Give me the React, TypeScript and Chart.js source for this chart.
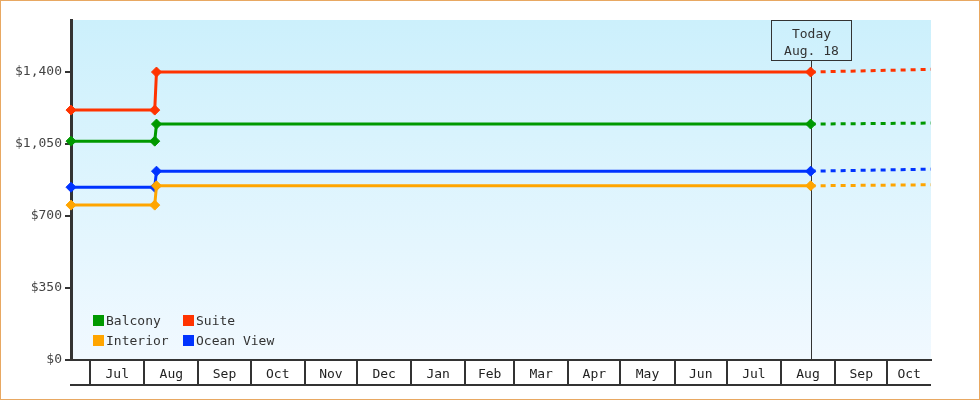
import { useEffect, useRef } from 'react'
import { Chart, registerables } from 'chart.js'
import type { Plugin } from 'chart.js'

Chart.register(...registerables)

// time range shown on the x axis
const startDate = '2017-06-20'
const endDate = '2018-10-26'
const todayDate = '2018-08-18'
const todayLabel = ['Today', 'Aug. 18']

// recorded prices
const priceDates = ['2017-06-20', '2017-08-07', '2017-08-08', '2018-08-18']
const balcony = [1064, 1064, 1147, 1147]
const suite = [1215, 1215, 1400, 1400]
const interior = [753, 753, 847, 847]
const oceanView = [840, 840, 918, 918]

// forecast after today
const forecastDates = ['2018-08-18', '2018-10-26']
const balconyForecast = [1147, 1152]
const suiteForecast = [1400, 1413]
const interiorForecast = [847, 852]
const oceanViewForecast = [918, 928]

const yTicks = [0, 350, 700, 1050, 1400]
const yMax = 1653
const monthNames = ['Jan', 'Feb', 'Mar', 'Apr', 'May', 'Jun', 'Jul', 'Aug', 'Sep', 'Oct', 'Nov', 'Dec']

const series = [
  { label: 'Balcony', color: '#009900', values: balcony, forecast: balconyForecast },
  { label: 'Suite', color: '#ff3300', values: suite, forecast: suiteForecast },
  { label: 'Interior', color: '#ffa500', values: interior, forecast: interiorForecast },
  { label: 'Ocean View', color: '#0033ff', values: oceanView, forecast: oceanViewForecast },
]

const FONT = "'DejaVu Sans Mono', monospace"
const INK = '#333'

const DAY_MS = 86400000
const day = (s: string) => (Date.parse(s + 'T00:00:00Z') - Date.parse(startDate + 'T00:00:00Z')) / DAY_MS

// month starts covering the range, as day offsets
function monthStarts() {
  const out: { value: number; name: string }[] = []
  const s = new Date(startDate + 'T00:00:00Z')
  let y = s.getUTCFullYear()
  let m = s.getUTCMonth()
  const last = day(endDate)
  while (true) {
    const v = (Date.UTC(y, m, 1) - Date.parse(startDate + 'T00:00:00Z')) / DAY_MS
    if (v > last) break
    out.push({ value: v, name: monthNames[m] })
    m++
    if (m > 11) { m = 0; y++ }
  }
  return out
}

const months = monthStarts()

const backgroundPlugin: Plugin = {
  id: 'bg',
  beforeDraw(chart) {
    const { ctx, chartArea: a } = chart
    const g = ctx.createLinearGradient(0, a.top, 0, a.bottom)
    g.addColorStop(0, '#ccf0fc')
    g.addColorStop(1, '#f1f9ff')
    ctx.save()
    ctx.fillStyle = g
    ctx.fillRect(a.left, a.top, a.right - a.left, a.bottom - a.top)
    ctx.restore()
  },
}

const todayPlugin: Plugin = {
  id: 'today',
  beforeDatasetsDraw(chart) {
    const { ctx, chartArea: a } = chart
    const x = Math.round(chart.scales.x.getPixelForValue(day(todayDate))) + 0.5
    ctx.save()
    ctx.strokeStyle = INK
    ctx.lineWidth = 1
    ctx.beginPath()
    ctx.moveTo(x, a.top + 40)
    ctx.lineTo(x, a.bottom)
    ctx.stroke()
    ctx.strokeRect(x - 40, a.top + 0.5, 80, 40)
    ctx.fillStyle = INK
    ctx.font = '13px ' + FONT
    ctx.textAlign = 'center'
    ctx.textBaseline = 'middle'
    ctx.fillText(todayLabel[0], x, a.top + 14.5)
    ctx.fillText(todayLabel[1], x, a.top + 31.5)
    ctx.restore()
  },
}

const legendPlugin: Plugin = {
  id: 'insideLegend',
  afterDatasetsDraw(chart) {
    const { ctx, chartArea: a } = chart
    ctx.save()
    ctx.font = '13px ' + FONT
    ctx.textBaseline = 'middle'
    ctx.textAlign = 'left'
    series.forEach((s, i) => {
      const x = a.left + 22 + (i % 2) * 90
      const y = a.bottom - 45 + Math.floor(i / 2) * 20
      ctx.fillStyle = s.color
      ctx.fillRect(x, y, 11, 11)
      ctx.fillStyle = INK
      ctx.fillText(s.label, x + 13, y + 6.5)
    })
    ctx.restore()
  },
}

const monthAxisPlugin: Plugin = {
  id: 'monthAxis',
  afterDraw(chart) {
    const { ctx, chartArea: a } = chart
    const xs = chart.scales.x
    const min = xs.min
    const max = xs.max
    ctx.save()
    ctx.strokeStyle = INK
    ctx.lineWidth = 2
    ctx.beginPath()
    ctx.moveTo(a.left - 1, a.bottom + 25)
    ctx.lineTo(a.right, a.bottom + 25)
    ctx.stroke()
    ctx.fillStyle = '#222'
    ctx.font = '13px ' + FONT
    ctx.textAlign = 'center'
    ctx.textBaseline = 'middle'
    months.forEach((m, i) => {
      const next = i + 1 < months.length ? months[i + 1].value : max
      const lo = xs.getPixelForValue(Math.max(m.value, min))
      const hi = xs.getPixelForValue(Math.min(next, max))
      if (hi - lo < 30) return
      ctx.fillText(m.name, (lo + hi) / 2, a.bottom + 14.5)
    })
    ctx.restore()
  },
}

export default function App() {
  const canvasRef = useRef<HTMLCanvasElement>(null)
  const chartRef = useRef<Chart | null>(null)

  useEffect(() => {
    if (chartRef.current) chartRef.current.destroy()
    const ctx = canvasRef.current?.getContext('2d')
    if (!ctx) return

    const solid = series.map(s => ({
      label: s.label,
      data: priceDates.map((d, i) => ({ x: day(d), y: s.values[i] })),
      borderColor: s.color,
      backgroundColor: s.color,
      borderWidth: 3,
      pointStyle: 'rectRot' as const,
      pointRadius: 5,
      pointBorderWidth: 1,
      pointBackgroundColor: s.color,
      pointBorderColor: s.color,
      tension: 0,
      clip: false as const,
    }))
    const dashed = series.map(s => ({
      label: s.label + ' forecast',
      data: forecastDates.map((d, i) => ({ x: day(d), y: s.forecast[i] })),
      borderColor: s.color,
      backgroundColor: s.color,
      borderWidth: 3,
      borderDash: [5, 5],
      pointRadius: 0,
      tension: 0,
    }))

    chartRef.current = new Chart(ctx, {
      type: 'line',
      data: { datasets: [...solid, ...dashed] },
      options: {
        animation: false,
        responsive: false,
        maintainAspectRatio: false,
        devicePixelRatio: 1,
        layout: { padding: { top: 19, right: 48, left: 0, bottom: 0 } },
        plugins: {
          legend: { display: false },
          tooltip: { enabled: false },
        },
        scales: {
          x: {
            type: 'linear',
            min: 0,
            max: day(endDate),
            afterBuildTicks: (scale) => {
              scale.ticks = months
                .filter(m => m.value > 0 && m.value < day(endDate))
                .map(m => ({ value: m.value }))
            },
            afterFit: (scale) => { scale.height = 39 },
            ticks: { display: false },
            grid: { drawOnChartArea: false, drawTicks: true, tickLength: 25, color: INK, lineWidth: 2 },
            border: { display: true, color: INK, width: 2 },
          },
          y: {
            min: 0,
            max: yMax,
            afterBuildTicks: (scale) => {
              scale.ticks = yTicks.map(v => ({ value: v }))
            },
            afterFit: (scale) => { scale.width = 70 },
            ticks: {
              callback: (v) => '$' + Number(v).toLocaleString('en-US'),
              font: { family: FONT, size: 13 },
              color: '#444',
              padding: 3,
            },
            grid: { drawOnChartArea: false, tickLength: 6, color: INK, lineWidth: 2 },
            border: { color: INK, width: 3 },
          },
        },
      },
      plugins: [backgroundPlugin, todayPlugin, legendPlugin, monthAxisPlugin],
    })

    return () => {
      if (chartRef.current) {
        chartRef.current.destroy()
        chartRef.current = null
      }
    }
  }, [])

  return (
    <div
      style={{
        position: 'absolute',
        left: 0,
        top: 0,
        width: 980,
        height: 400,
        boxSizing: 'border-box',
        border: '1px solid #e8a862',
        background: '#fff',
      }}
    >
      <canvas ref={canvasRef} width={978} height={398} style={{ display: 'block' }} />
    </div>
  )
}
